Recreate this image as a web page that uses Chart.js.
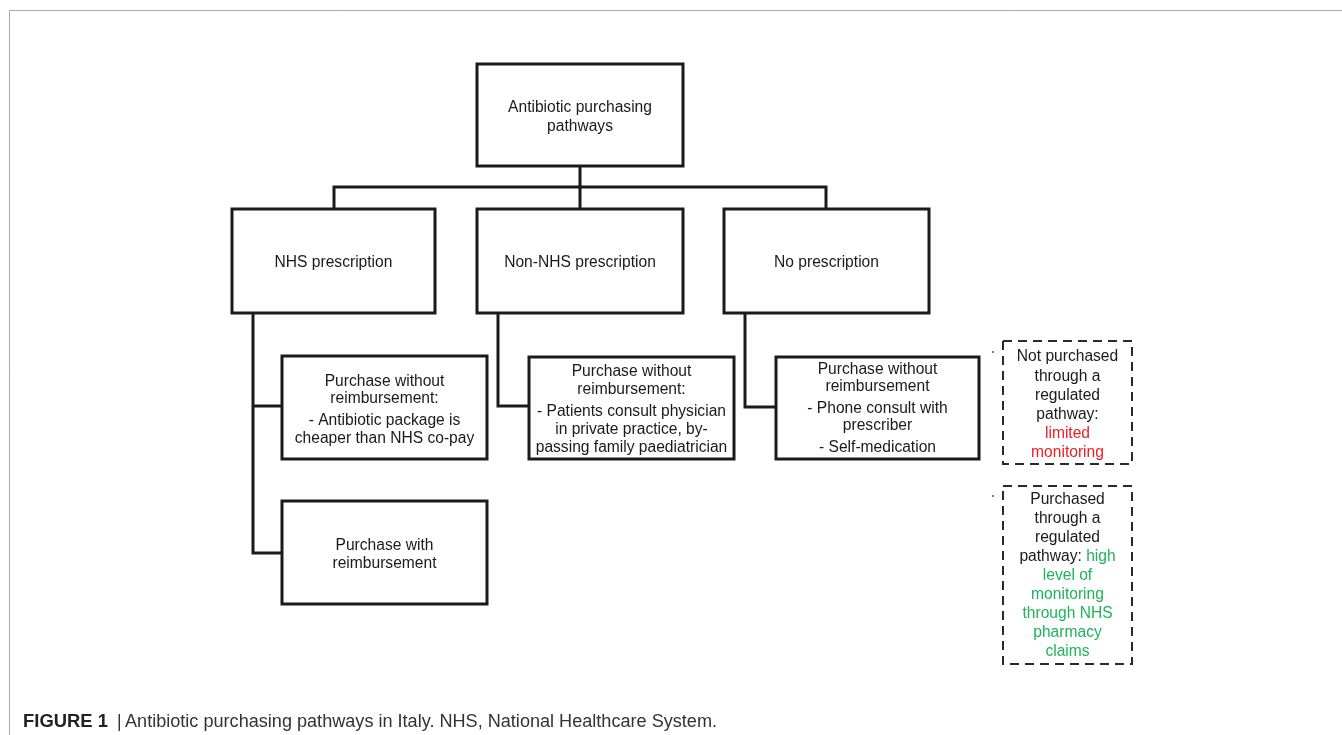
<!DOCTYPE html>
<html>
<head>
<meta charset="utf-8">
<script src="https://cdn.jsdelivr.net/npm/chart.js@4.4.1/dist/chart.umd.min.js"></script>
<style>
  html, body { margin: 0; padding: 0; background: #fff; }
  #wrap { width: 1342px; height: 735px; position: relative; }
</style>
</head>
<body>
<div id="wrap"><canvas id="flowChartEl"></canvas></div>
<script>
// Flowchart content
const BLACK = '#1a1a1a';
const RED = '#ee1c24';
const GREEN = '#1fb35a';

const nodeIds = ['root', 'nhs', 'nonNhs', 'noPresc', 'nhsNoReimb', 'nhsReimb', 'nonNhsNoReimb', 'noPrescNoReimb', 'legendLimited', 'legendHigh'];

const nodeLines = {
  root: [['Antibiotic purchasing'], ['pathways']],
  nhs: [['NHS prescription']],
  nonNhs: [['Non-NHS prescription']],
  noPresc: [['No prescription']],
  nhsNoReimb: [['Purchase without'], ['reimbursement:'], ['- Antibiotic package is'], ['cheaper than NHS co-pay']],
  nhsReimb: [['Purchase with'], ['reimbursement']],
  nonNhsNoReimb: [['Purchase without'], ['reimbursement:'], ['- Patients consult physician'], ['in private practice, by-'], ['passing family paediatrician']],
  noPrescNoReimb: [['Purchase without'], ['reimbursement'], ['- Phone consult with'], ['prescriber'], ['- Self-medication']],
  legendLimited: [['Not purchased'], ['through a'], ['regulated'], ['pathway:'], ['limited', RED], ['monitoring', RED]],
  legendHigh: [['Purchased'], ['through a'], ['regulated'], [['pathway: ', BLACK], ['high', GREEN]], ['level of', GREEN], ['monitoring', GREEN], ['through NHS', GREEN], ['pharmacy', GREEN], ['claims', GREEN]]
};

const captionBold = 'FIGURE 1';
const captionBar = '|';
const captionText = 'Antibiotic purchasing pathways in Italy. NHS, National Healthcare System.';

// Layout (page pixel units, mapped through the scales)
const boxes = {
  root: [477, 64, 683, 166],
  nhs: [232, 209, 435, 313],
  nonNhs: [477, 209, 683, 313],
  noPresc: [724, 209, 929, 313],
  nhsNoReimb: [282, 356, 487, 459],
  nhsReimb: [282, 501, 487, 604],
  nonNhsNoReimb: [529, 357, 734, 459],
  noPrescNoReimb: [776, 357, 979, 459],
  legendLimited: [1003, 341, 1132, 464],
  legendHigh: [1003, 486, 1132, 664]
};
const textTops = {
  root: [106, 125],
  nhs: [261],
  nonNhs: [261],
  noPresc: [261],
  nhsNoReimb: [380, 397, 419, 437],
  nhsReimb: [544, 562],
  nonNhsNoReimb: [370, 388, 410, 428, 446],
  noPrescNoReimb: [368, 385, 407, 424, 446],
  legendLimited: [355, 375, 394, 413, 432, 451],
  legendHigh: [498, 517, 536, 555, 574, 593, 612, 631, 650]
};
const connectors = [
  [[580, 166], [580, 209]],
  [[334, 209], [334, 187], [826, 187], [826, 209]],
  [[253, 313], [253, 553], [282, 553]],
  [[253, 406], [282, 406]],
  [[498, 313], [498, 406], [529, 406]],
  [[745, 313], [745, 407], [776, 407]]
];
const dashedIds = ['legendLimited', 'legendHigh'];
const bulletDots = [[993, 352], [993, 496]];

function boxPoints(b, dashed) {
  const [x0, y0, x1, y1] = b;
  const pts = [{x: x0, y: y0}, {x: x1, y: y0}, {x: x1, y: y1}, {x: x0, y: y1}, {x: x0, y: y0}];
  if (!dashed) pts.push({x: x1, y: y0}); // close the corner join
  return pts;
}

const datasets = [];
nodeIds.forEach(id => {
  const dashed = dashedIds.includes(id);
  datasets.push({
    data: boxPoints(boxes[id], dashed),
    showLine: true,
    borderColor: dashed ? '#2a2a2a' : BLACK,
    borderWidth: dashed ? 2 : 3,
    borderDash: dashed ? [9, 6] : [],
    borderJoinStyle: 'miter',
    pointRadius: 0
  });
});
connectors.forEach(c => {
  datasets.push({
    data: c.map(p => ({x: p[0], y: p[1]})),
    showLine: true,
    borderColor: BLACK,
    borderWidth: 3,
    borderJoinStyle: 'miter',
    pointRadius: 0
  });
});
datasets.push({
  data: bulletDots.map(p => ({x: p[0], y: p[1]})),
  showLine: false,
  pointRadius: 1,
  pointBackgroundColor: '#555',
  pointBorderWidth: 0
});

// draw text squeezed/stretched to a target width
function fitText(ctx, text, x, y, width) {
  const w = ctx.measureText(text).width;
  ctx.save();
  ctx.translate(x, y);
  ctx.scale(width / w, 1);
  ctx.fillText(text, 0, 0);
  ctx.restore();
}

// Frame, node text and caption
const textPlugin = {
  id: 'flowText',
  beforeDraw(chart) {
    const ctx = chart.ctx;
    const sx = chart.scales.x, sy = chart.scales.y;
    ctx.save();
    ctx.fillStyle = '#fff';
    ctx.fillRect(0, 0, chart.width, chart.height);
    ctx.strokeStyle = '#aaaaaa';
    ctx.lineWidth = 1;
    ctx.beginPath();
    ctx.moveTo(sx.getPixelForValue(9) + 0.5, sy.getPixelForValue(735));
    ctx.lineTo(sx.getPixelForValue(9) + 0.5, sy.getPixelForValue(10) + 0.5);
    ctx.lineTo(sx.getPixelForValue(1342), sy.getPixelForValue(10) + 0.5);
    ctx.stroke();
    ctx.restore();
  },
  afterDatasetsDraw(chart) {
    const ctx = chart.ctx;
    const sx = chart.scales.x, sy = chart.scales.y;
    ctx.save();
    ctx.font = '15.6px "Liberation Sans", Arial, sans-serif';
    ctx.textBaseline = 'middle';
    ctx.textAlign = 'left';
    nodeIds.forEach(id => {
      const b = boxes[id];
      const cx = sx.getPixelForValue((b[0] + b[2]) / 2);
      nodeLines[id].forEach((line, i) => {
        const segs = Array.isArray(line[0]) ? line : [[line[0], line[1] || BLACK]];
        const w = segs.reduce((s, g) => s + ctx.measureText(g[0]).width, 0);
        let x = cx - w / 2;
        const y = sy.getPixelForValue(textTops[id][i]) + 1.5;
        segs.forEach(g => {
          ctx.fillStyle = g[1];
          ctx.fillText(g[0], x, y);
          x += ctx.measureText(g[0]).width;
        });
      });
    });
    // caption
    const cy = sy.getPixelForValue(722);
    ctx.fillStyle = '#222';
    ctx.font = 'bold 17.5px "Liberation Sans", Arial, sans-serif';
    fitText(ctx, captionBold, sx.getPixelForValue(23), cy, 85);
    ctx.font = '17.5px "Liberation Sans", Arial, sans-serif';
    ctx.fillStyle = '#333';
    ctx.fillText(captionBar, sx.getPixelForValue(117), cy);
    fitText(ctx, captionText, sx.getPixelForValue(125), cy, 592);
    ctx.restore();
  }
};

new Chart(document.getElementById('flowChartEl'), {
  type: 'scatter',
  data: { datasets },
  options: {
    responsive: true,
    maintainAspectRatio: false,
    animation: false,
    layout: { padding: 0, autoPadding: false },
    plugins: { legend: { display: false }, tooltip: { enabled: false } },
    scales: {
      x: { type: 'linear', min: 0, max: 1342, display: false },
      y: { type: 'linear', min: 0, max: 735, reverse: true, display: false }
    }
  },
  plugins: [textPlugin]
});
</script>
</body>
</html>
